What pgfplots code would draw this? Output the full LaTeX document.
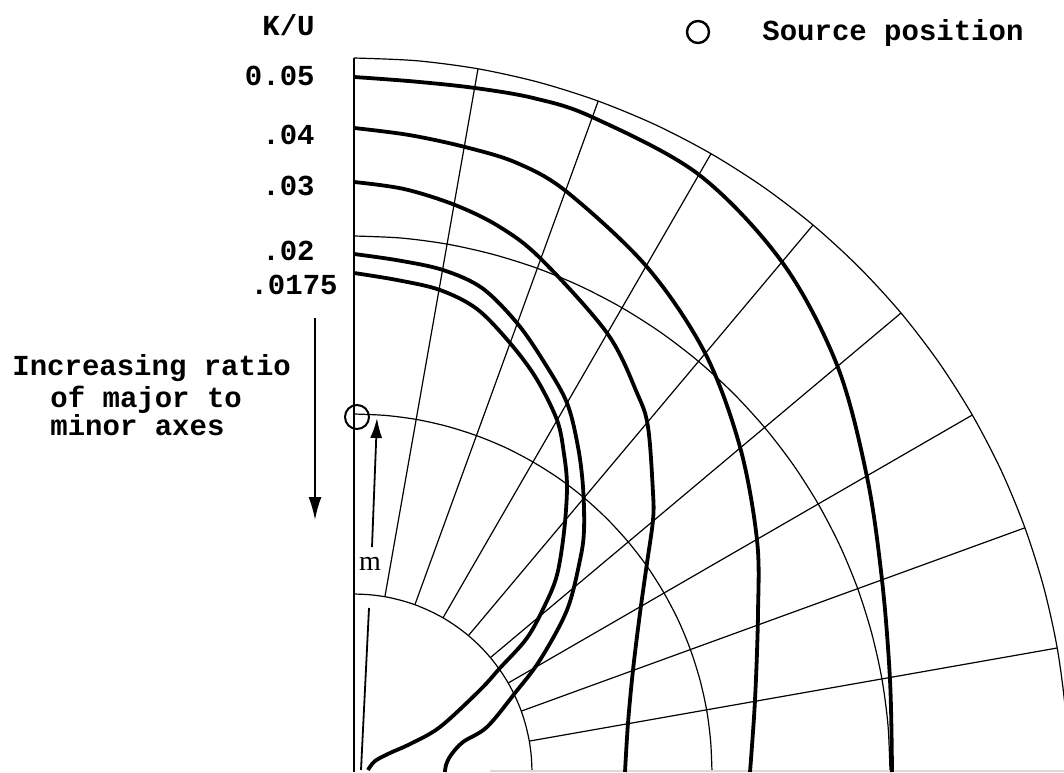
\documentclass[border=0pt]{standalone}
\usepackage{pgfplots}
\pgfplotsset{compat=1.18}
\usepackage{fontspec}
\setmainfont{Liberation Serif}
\newfontfamily\tw{Liberation Mono}[BoldFont={Liberation Mono Bold}]
\usetikzlibrary{arrows.meta}
\begin{document}
\begin{tikzpicture}
\begin{axis}[
  x=0.5pt, y=0.5pt,
  xmin=-354, xmax=710, ymin=0, ymax=772,
  hide axis,
  clip=true,
  grid line/.style={black, line width=0.6pt},
  curve/.style={black, line width=1.9pt, smooth, tension=0.55},
]
% ---- grid: arcs ----
\addplot[grid line, smooth] coordinates {(0,178) (15.5,177.3) (30.9,175.3) (46.1,171.9) (60.9,167.3) (75.2,161.3) (89,154.2) (102.1,145.8) (114.4,136.4) (125.9,125.9) (136.4,114.4) (145.8,102.1) (154.2,89) (161.3,75.2) (167.3,60.9) (171.9,46.1) (175.3,30.9) (177.3,15.5) (178,0)};
\addplot[grid line, smooth] coordinates {(0,358) (31.2,356.6) (62.2,352.6) (92.7,345.8) (122.4,336.4) (151.3,324.5) (179,310.0) (205.3,293.3) (230.1,274.2) (253.1,253.1) (274.2,230.1) (293.3,205.3) (310.0,179) (324.5,151.3) (336.4,122.4) (345.8,92.7) (352.6,62.2) (356.6,31.2) (358,0)};
\addplot[grid line, smooth] coordinates {(0,536) (46.7,534.0) (93.1,527.9) (138.7,517.7) (183.3,503.7) (226.5,485.8) (268,464.2) (307.4,439.1) (344.5,410.6) (379.0,379.0) (410.6,344.5) (439.1,307.4) (464.2,268) (485.8,226.5) (503.7,183.3) (517.7,138.7) (527.9,93.1) (534.0,46.7) (536,0)};
\addplot[grid line, smooth] coordinates {(0,714) (62.2,711.3) (124.0,703.2) (184.8,689.7) (244.2,670.9) (301.7,647.1) (357,618.3) (409.5,584.9) (459.0,547.0) (504.9,504.9) (547.0,459.0) (584.9,409.5) (618.3,357) (647.1,301.7) (670.9,244.2) (689.7,184.8) (703.2,124.0) (711.3,62.2) (714,0)};
% ---- grid: radial lines ----
\addplot[grid line] coordinates {(30.9,175.3) (124.0,703.2)};
\addplot[grid line] coordinates {(60.9,167.3) (244.2,670.9)};
\addplot[grid line] coordinates {(89,154.2) (357,618.3)};
\addplot[grid line] coordinates {(114.4,136.4) (459.0,547.0)};
\addplot[grid line] coordinates {(136.4,114.4) (547.0,459.0)};
\addplot[grid line] coordinates {(154.2,89) (618.3,357)};
\addplot[grid line] coordinates {(167.3,60.9) (670.9,244.2)};
\addplot[grid line] coordinates {(175.3,30.9) (703.2,124.0)};
% vertical axis
\addplot[grid line] coordinates {(0,0) (0,714)};
% faint bottom edge
\addplot[gray!30, line width=0.6pt] coordinates {(136,1) (710,1)};
% ---- K/U curves ----
% 0.05
\addplot[curve] coordinates {(0,695) (60,690.5) (121,684) (180,673.8) (238,655) (344,598) (428,510) (483,407) (513,295) (528,192) (536,92) (538,0)};
% 0.04
\addplot[curve] coordinates {(0,644) (55,637) (111,625) (163,609) (213,580) (293,505) (351,419) (386,325) (403,232) (404,159) (401,72) (396,0)};
% 0.03
\addplot[curve] coordinates {(0,590) (50,583) (101,567) (145,545.5) (186,514) (253,439) (283,379) (294,345) (299,279) (299,252) (293,209) (286,159) (279,102) (274,49) (271,0)};
% 0.02
\addplot[curve] coordinates {(0,518) (45,511.5) (89,502) (128,484) (163,449) (190,410) (213,369) (224,325) (229,285) (230,242) (226,212) (213,162) (186,112) (161,79) (133,45) (109,30) (97,17) (92,7) (91,0)};
% 0.0175
\addplot[curve] coordinates {(0,499) (43,492) (86,482) (123,463) (156,429) (182,394) (203,352) (210,318) (213,285) (210,240) (203,197) (191,167) (173,134) (146,104) (126,82) (86,45) (56,28) (36,19) (21,11) (14,2)};
% ---- source position ----
\addplot[only marks, mark=o, mark size=6pt, mark options={line width=1pt}] coordinates {(3,355)};
\addplot[only marks, mark=o, mark size=5.5pt, mark options={line width=1.2pt}] coordinates {(344,740)};
% ---- m arrow ----
\draw[line width=0.9pt] (axis cs:15,164) -- (axis cs:7,2);
\draw[line width=0.9pt, -{Latex[length=10pt,width=6pt]}] (axis cs:18,225) -- (axis cs:23,354);
\node[font=\fontsize{14}{16}\selectfont] at (axis cs:16,208) {m};
% ---- left arrow ----
\draw[line width=0.9pt, -{Latex[length=11.5pt,width=6.5pt]}] (axis cs:-39,454) -- (axis cs:-39,252);
% ---- labels ----
\begin{scope}[every node/.style={font=\tw\bfseries\fontsize{14.5}{17}\selectfont, inner sep=0pt}]
\node[anchor=mid east] at (axis cs:-39,741) {K/U};
\node[anchor=mid east] at (axis cs:-39,691) {0.05};
\node[anchor=mid east] at (axis cs:-39,632) {.04};
\node[anchor=mid east] at (axis cs:-39,581) {.03};
\node[anchor=mid east] at (axis cs:-39,516) {.02};
\node[anchor=mid east] at (axis cs:-16,482) {.0175};
\node[anchor=mid west] at (axis cs:408,736) {Source position};
\node[anchor=mid west] at (axis cs:-342,401) {Increasing ratio};
\node[anchor=mid west] at (axis cs:-304,369) {of major to};
\node[anchor=mid west] at (axis cs:-304,341) {minor axes};
\end{scope}
\end{axis}
\pgfresetboundingbox
\path (current axis.south west) rectangle (current axis.north east);
\end{tikzpicture}
\end{document}
